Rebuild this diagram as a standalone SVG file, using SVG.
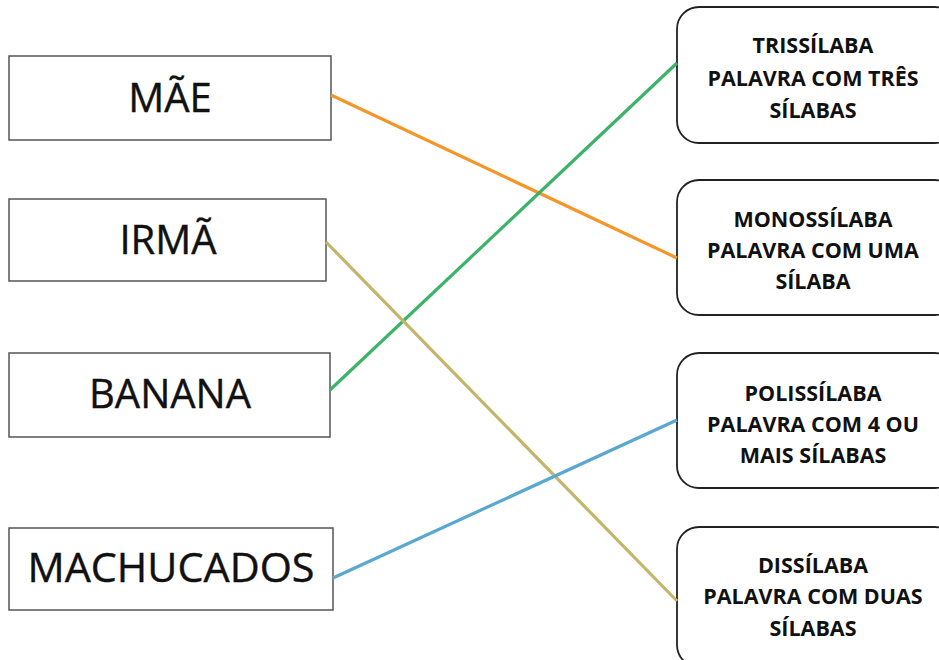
<svg xmlns="http://www.w3.org/2000/svg" width="939" height="660" viewBox="0 0 939 660">
<style>
.word rect{fill:#fff;stroke:#555;stroke-width:1.5}
.word text{font-family:"Open Sans","Liberation Sans",sans-serif;font-size:40px;fill:#111;text-anchor:middle;stroke:#111;stroke-width:0.4}
.def rect{fill:#fff;stroke:#222;stroke-width:1.8}
.def text{font-family:"Open Sans","Liberation Sans",sans-serif;font-weight:bold;font-size:21.5px;fill:#111;text-anchor:middle}
.conn line{stroke-width:3.2;stroke-linecap:butt;fill:none}
</style>
<rect width="939" height="660" fill="#fff"/>
<g id="n-mae" class="word"><rect x="9" y="56" width="322" height="84"/><text x="170" y="112">MÃE</text></g>
<g id="n-irma" class="word"><rect x="9" y="199" width="317" height="82"/><text x="168" y="254">IRMÃ</text></g>
<g id="n-banana" class="word"><rect x="9" y="353" width="321" height="84"/><text x="170" y="408">BANANA</text></g>
<g id="n-machucados" class="word"><rect x="9" y="528" width="324" height="82"/><text x="171" y="582" textLength="287" lengthAdjust="spacingAndGlyphs">MACHUCADOS</text></g>
<g id="n-tri" class="def"><rect x="677" y="7" width="280" height="136" rx="22"/><text x="813" y="53">TRISSÍLABA</text><text x="813" y="86">PALAVRA COM TRÊS</text><text x="813" y="118">SÍLABAS</text></g>
<g id="n-mono" class="def"><rect x="677" y="180" width="280" height="135" rx="22"/><text x="813" y="227">MONOSSÍLABA</text><text x="813" y="258">PALAVRA COM UMA</text><text x="813" y="289">SÍLABA</text></g>
<g id="n-poli" class="def"><rect x="677" y="353" width="280" height="135" rx="22"/><text x="813" y="401">POLISSÍLABA</text><text x="813" y="432">PALAVRA COM 4 OU</text><text x="813" y="463">MAIS SÍLABAS</text></g>
<g id="n-dis" class="def"><rect x="677" y="527" width="280" height="140" rx="22"/><text x="813" y="573">DISSÍLABA</text><text x="813" y="604">PALAVRA COM DUAS</text><text x="813" y="636">SÍLABAS</text></g>
<g id="connectors" class="conn">
<line x1="331" y1="95" x2="677" y2="258" stroke="#F4962A"/>
<line x1="330" y1="390" x2="677" y2="63" stroke="#3DB36A"/>
<line x1="326" y1="242" x2="677" y2="601" stroke="#C3B56A"/>
<line x1="333" y1="578" x2="677" y2="420" stroke="#5AA8CE"/>
</g>
</svg>
